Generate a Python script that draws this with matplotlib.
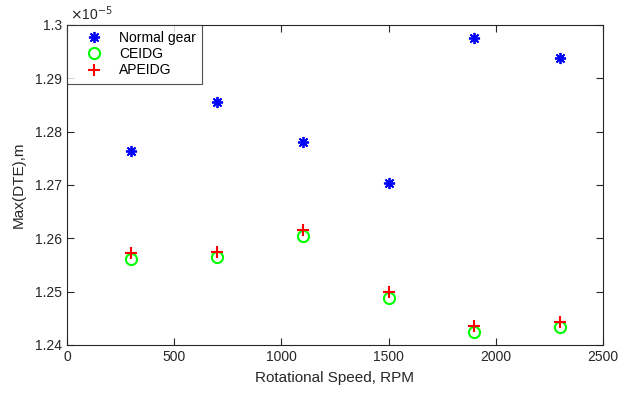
import matplotlib
matplotlib.use("Agg")
import matplotlib.pyplot as plt
import numpy as np

plt.rcParams['font.family'] = ['Liberation Sans', 'DejaVu Sans']

speed = [300, 700, 1100, 1500, 1900, 2300]
normal_gear = [1.2764, 1.2856, 1.2781, 1.2703, 1.2975, 1.2938]
ceidg = [1.2561, 1.2565, 1.2604, 1.2489, 1.2424, 1.2433]
apeidg = [1.2573, 1.2575, 1.2615, 1.2499, 1.2435, 1.2443]

fig = plt.figure(figsize=(6.2, 3.96), dpi=100)
ax = fig.add_axes([0.108, 0.1288, 0.8646, 0.8081])
ec = '#262626'

ax.plot(speed, normal_gear, linestyle='none', marker=(8, 2, 0), markersize=8, color='#0000ff',
        markeredgewidth=1.3, label='Normal gear')
ax.plot(speed, ceidg, linestyle='none', marker='o', markersize=8, markerfacecolor='none',
        markeredgecolor='#00ff00', markeredgewidth=1.5, label='CEIDG')
ax.plot(speed, apeidg, linestyle='none', marker='+', markersize=9, color='#ff0000',
        markeredgewidth=1.5, label='APEIDG')

ax.set_xlim(0, 2500)
ax.set_ylim(1.24, 1.30)
ax.set_xticks([0, 500, 1000, 1500, 2000, 2500])
yt = [1.24, 1.25, 1.26, 1.27, 1.28, 1.29, 1.30]
ax.set_yticks(yt)
ax.set_yticklabels(['1.24', '1.25', '1.26', '1.27', '1.28', '1.29', '1.3'])
ax.tick_params(direction='in', top=True, right=True, length=5, width=0.8,
               labelsize=10, colors=ec, labelcolor=ec)
for s in ax.spines.values():
    s.set_color(ec)
    s.set_linewidth(0.8)

ax.set_xlabel('Rotational Speed, RPM', fontsize=11, color=ec, labelpad=5)
ax.set_ylabel('Max(DTE),m', fontsize=11, color=ec, labelpad=7)
ax.text(0.005, 1.005, r'$\times$10$^{-5}$', transform=ax.transAxes, fontsize=10,
        color=ec, ha='left', va='bottom')

leg = ax.legend(loc='upper left', fontsize=10, frameon=True, fancybox=False,
                edgecolor=ec, borderaxespad=0, handletextpad=0.3, borderpad=0.45,
                labelspacing=0.15, handlelength=3.0)
leg.get_frame().set_linewidth(0.8)

fig.savefig('out.png', dpi=100)
